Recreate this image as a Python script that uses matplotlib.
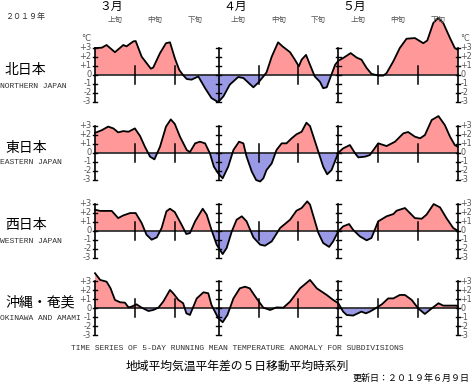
"""
5-day running mean temperature anomaly, four subdivisions of Japan (Mar-May 2019).
"""

import matplotlib
matplotlib.use("Agg")
import matplotlib.pyplot as plt

# ── Data (day 0 = Mar 1, day 91 = May 31) ───────────────────────────────────
north_day = [0, 1.7, 2.9, 5, 7.1, 7.9, 9.6, 10.2, 11.7, 14, 14.6, 16.3, 17.8, 18.8,
             20, 21.1, 22, 23, 24.2, 25.9, 27.6, 29.2, 30.9, 32.2, 33.8, 35.9, 37.2,
             39.7, 40.9, 42.2, 43, 44.3, 45.9, 47, 48.9, 50.1, 51.1, 51.8, 52.9, 53.9,
             55.1, 56.4, 57.2, 58.1, 59.1, 60.2, 61, 62.2, 64.1, 65.6, 66.8, 68.1,
             69.3, 71, 72.3, 73.1, 74.8, 76.4, 78.1, 80.2, 82.3, 83.3, 84.8, 86,
             87.3, 89, 90.2, 90.9]
north_val = [2.96, 3.0, 3.3, 2.5, 3.3, 3.15, 3.7, 3.74, 2.0, 0.67, 0.8, 2.4, 3.5, 3.6,
             1.85, 0.55, 0, -0.48, -0.55, -0.2, -1.5, -2.6, -3.05, -2.4, -1.1, -0.26,
             -0.37, -1.4, -0.9, -0.2, 0.26, 2.0, 3.6, 3.15, 2.5, 1.67, 0.93, 1.67, 2.2,
             1.1, -0.2, -0.8, -1.5, -1.4, -0.2, 1.1, 1.55, 1.85, 2.4, 1.9, 1.67, 0.74,
             0.1, -0.1, -0.1, 0.18, 1.5, 2.96, 4.0, 4.07, 3.5, 3.8, 5.74, 6.3,
             5.74, 4.07, 2.96, 2.78]

east_day = [0, 1.7, 3.3, 4.6, 5.8, 7.1, 8.4, 10, 11.3, 12.5, 13.8, 14.9, 16.3, 17.8,
            19, 20, 21.3, 23, 23.8, 25.1, 26.3, 27.6, 28.8, 29.8, 30.9, 32, 33.4,
            34.7, 36.1, 37.2, 38, 39.3, 40.4, 41.4, 42.2, 43, 44.3, 45.5, 46.8, 48,
            49.3, 50.5, 51.8, 53, 53.9, 54.9, 56, 57.2, 58.2, 59.3, 61, 62.2, 63.9,
            65.2, 66, 67.7, 68.9, 71, 73.1, 75.2, 77.3, 78.5, 80.2, 81.5, 82.7,
            84.4, 86.1, 87.7, 89, 90.2, 90.9]
east_val = [2.2, 2.5, 2.9, 2.7, 2.26, 2.4, 2.33, 2.7, 1.85, 0.67, -0.44, -0.74, 0.67,
            2.9, 3.7, 3.2, 1.78, 0.3, 0.07, 1.04, 1.22, 1.04, -0.07, -1.55, -2.3,
            -2.85, -1.55, 0.3, 1.22, 1.04, -0.44, -2.1, -3.04, -3.2, -2.85, -1.93,
            -1.19, 0.3, 1.04, 1.04, 1.6, 2.04, 2.33, 3.33, 2.96, 1.6, 0.1, -1.55,
            -2.4, -1.93, 0, 0.48, 0.85, -0.07, -0.52, -0.44, -0.26, 1.04, 0.74, 1.22,
            2.15, 2.3, 1.78, 1.6, 1.96, 3.63, 4.07, 3.07, 1.78, 0.85, 0.67]

west_day = [0, 1.3, 4.2, 5.8, 7.1, 8.8, 10.2, 11.7, 12.9, 14.2, 15.5, 16.7, 17.9,
            18.8, 20, 21.7, 22.9, 23.8, 25.1, 27, 28, 29.2, 30.5, 32, 33, 34.3,
            35.5, 36.8, 38, 39.7, 41.4, 42.6, 44.3, 46.4, 48.9, 50.5, 51.8, 53.2,
            53.9, 54.9, 56, 57.2, 58.7, 59.7, 61, 62.2, 63.7, 64.7, 66.4, 68.1,
            69.3, 71, 73.1, 74.8, 75.6, 77.7, 80.2, 81.9, 83.1, 84.9, 86.5, 88.1,
            89.8, 90.9]
west_val = [2.33, 2.2, 2.2, 1.4, 1.7, 1.96, 1.96, 0.85, -0.44, -1.0, -0.74, 0.3, 2.15,
            2.44, 2.07, 0.67, -0.37, -0.26, 1.04, 2.44, 1.78, 0.1, -1.55, -2.6,
            -1.93, -0.07, 1.22, 1.6, 1.04, -0.74, -1.55, -1.67, -1.19, 0.3, 1.22,
            2.22, 2.52, 3.26, 2.9, 1.4, -0.26, -1.37, -1.8, -1.19, -0.07, 0.48, 0.74,
            0.1, -0.63, -1.07, -0.81, 1.04, 1.6, 1.85, 2.22, 2.52, 1.4, 1.33, 1.78,
            2.96, 2.59, 1.4, 0.3, 0]

okinawa_day = [0, 1.3, 2.9, 3.9, 5, 6.3, 7.5, 8.4, 9.2, 10.4, 11.7, 13.4, 14.6, 15.9,
               17.1, 18.8, 19.6, 20.9, 22.1, 22.9, 23.8, 25.5, 27.2, 28.4, 29.2,
               30.9, 32, 33.2, 34.7, 36.3, 37.6, 38.8, 40.5, 42.2, 43.9, 45.5, 47.2,
               48.9, 51.4, 53.9, 55.6, 58.1, 59.7, 61, 62.2, 63.1, 64.7, 66.8, 67.9,
               68.9, 70.6, 71.9, 73.5, 74.8, 76.4, 77.7, 79.4, 81, 82.7, 83.9, 86.1,
               87.3, 89, 90.7, 90.9]
okinawa_val = [3.9, 3.15, 2.96, 2.22, 0.93, 0.67, 0.63, 0.1, 0.19, 0.44, 0.07, -0.3,
               -0.19, 0.07, 0.74, 2.04, 1.67, 0.93, 0.56, -0.56, -0.74, 1.1, 1.78,
               1.67, 0.37, -1.1, -1.55, -0.74, 1.1, 2.22, 2.4, 2.22, 1.1, 0.07, -0.19,
               0.1, 0.07, 0.74, 2.22, 3.15, 2.22, 1.48, 0.93, 0.56, -0.37, -0.74,
               -0.81, -0.37, -0.56, -0.37, 0.07, 0.44, 1.1, 1.1, 1.48, 1.48, 0.93, 0,
               -0.63, -0.19, 0.56, 0.3, 0.3, 0.3, 0.19]

regions_jp = ["北日本", "東日本", "西日本", "沖縄・奄美"]
regions_en = ["NORTHERN JAPAN", "EASTERN JAPAN", "WESTERN JAPAN", "OKINAWA AND AMAMI"]
months = ["３月", "４月", "５月"]
month_starts = [0, 31, 61, 91]
dekads = ["上旬", "中旬", "下旬"]
ytick_vals = [3, 2, 1, 0, -1, -2, -3]
ytick_labels = ["+3", "+2", "+1", "0", "-1", "-2", "-3"]

series = [(north_day, north_val), (east_day, east_val),
          (west_day, west_val), (okinawa_day, okinawa_val)]

# ── Layout (pixels) ─────────────────────────────────────────────────────────
W, H = 471, 382
X0, X1 = 95, 458
ZERO_PX = [74.7, 152.7, 230.7, 308.3]
PX_PER_DEG = 9.0
HALF = 4.0

RED = "#ff9999"
BLUE = "#9999e6"
JP = ["Noto Sans CJK JP", "DejaVu Sans"]
MONO = "Liberation Mono"


def fpos(x, y):
    return x / W, 1 - y / H


fig = plt.figure(figsize=(W / 100, H / 100), dpi=100)
fig.patch.set_facecolor("white")

for i, (days, vals) in enumerate(series):
    z = ZERO_PX[i]
    bottom = (H - (z + HALF * PX_PER_DEG)) / H
    ax = fig.add_axes([X0 / W, bottom, (X1 - X0) / W, 2 * HALF * PX_PER_DEG / H])
    ax.set_xlim(0, 91)
    ax.set_ylim(-HALF, HALF)
    ax.axis("off")
    ax.patch.set_alpha(0)

    ax.fill_between(days, vals, 0, where=[v >= 0 for v in vals], interpolate=True,
                    color=RED, lw=0, clip_on=False, zorder=1)
    ax.fill_between(days, vals, 0, where=[v <= 0 for v in vals], interpolate=True,
                    color=BLUE, lw=0, clip_on=False, zorder=1)
    ax.plot(days, vals, color="black", lw=1.3, clip_on=False, zorder=4,
            solid_joinstyle="round")

    # zero line
    ax.plot([0, 91], [0, 0], color="#222222", lw=1.2, zorder=3, clip_on=False)

    # month boundary axes with integer ticks
    for m in month_starts:
        ax.plot([m, m], [-3, 3], color="black", lw=1.2, zorder=5, clip_on=False)
        for v in ytick_vals:
            ax.plot([m - 0.6, m + 0.6], [v, v], color="black", lw=1.0,
                    zorder=5, clip_on=False)

    # dekad ticks
    for m in month_starts[:3]:
        for d in (10, 20):
            ax.plot([m + d, m + d], [-1, 1], color="black", lw=1.1, zorder=5,
                    clip_on=False)

    # y tick labels both sides
    for v, lab in zip(ytick_vals, ytick_labels):
        ax.text(-0.9, v, lab, ha="right", va="center", fontsize=6, color="#555555")
        ax.text(91.6, v, lab, ha="left", va="center", fontsize=5.8, color="#555555")
    if i == 0:
        ax.text(-0.9, 4.0, "°C", ha="right", va="center", fontsize=6, color="#555555")
        ax.text(91.6, 4.0, "°C", ha="left", va="center", fontsize=5.8, color="#555555")

# region names
jp_y = [70, 148, 225, 303]
en_y = [86, 163, 242, 319]
for name, y in zip(regions_jp, jp_y):
    fig.text(*fpos(5, y), name, family=JP, fontsize=10, ha="left", va="center")
for name, y in zip(regions_en, en_y):
    fig.text(*fpos(0, y), name, family=MONO, fontsize=5.8, ha="left", va="center",
             color="#333333")

# header
fig.text(*fpos(5, 16), "２０１９年", family=JP, fontsize=5.8, ha="left", va="center",
         color="#333333")
for m, lab in zip(month_starts[:3], months):
    xpx = X0 + m * (X1 - X0) / 91 + 16
    fig.text(*fpos(xpx, 6), lab, family=JP, fontsize=8.5, ha="center", va="center")
    for k, dk in enumerate(dekads):
        xd = X0 + (m + 5 + 10 * k) * (X1 - X0) / 91
        fig.text(*fpos(xd, 20), dk, family=JP, fontsize=5.4, ha="center",
                 va="center", color="#555555")

# footer
fig.text(*fpos(237, 348),
         "TIME SERIES OF 5-DAY RUNNING MEAN TEMPERATURE ANOMALY FOR SUBDIVISIONS",
         family=MONO, fontsize=5.8, ha="center", va="center", color="#333333")
fig.text(*fpos(237, 366), "地域平均気温平年差の５日移動平均時系列", family=JP,
         fontsize=8.5, ha="center", va="center")
fig.text(*fpos(470, 378), "更新日：２０１９年６月９日", family=JP, fontsize=6.5,
         ha="right", va="center")

fig.savefig("out.png", dpi=100)
